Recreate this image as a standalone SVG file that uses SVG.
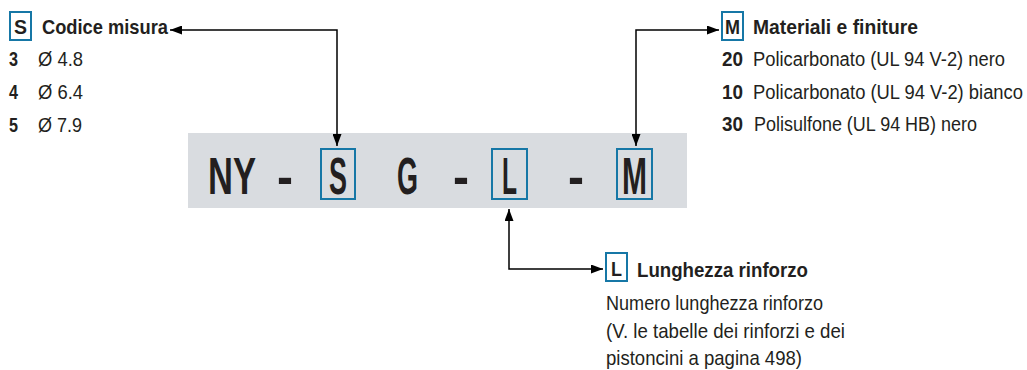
<svg xmlns="http://www.w3.org/2000/svg" width="1027" height="370" viewBox="0 0 1027 370">
<style>
.t{font-family:"Liberation Sans",Arial,sans-serif;fill:#231f20;font-size:21px}
.r{font-size:18.5px}
.b{font-weight:bold}
.big{font-family:"Liberation Sans",Arial,sans-serif;fill:#231f20;font-size:52px;font-weight:bold}
.box{fill:none;stroke:#1677a6;stroke-width:2}
.sbox{fill:#fff;stroke:#1677a6;stroke-width:2}
.con{fill:none;stroke:#000;stroke-width:1.5}
</style>
<defs>
<marker id="ah" viewBox="0 0 12 9" refX="12" refY="4.5" markerWidth="12" markerHeight="9" markerUnits="userSpaceOnUse" orient="auto-start-reverse">
<path d="M0,0 L12,4.5 L0,9 z" fill="#000"/>
</marker>
</defs>
<g id="code">
<rect x="188" y="133" width="499" height="75" fill="#d9dce0"/>
<text class="big" style="font-size:49px" x="208" y="194" transform="matrix(1 0 0 1.0612 0 -11.88)" textLength="48" lengthAdjust="spacingAndGlyphs">NY</text>
<text class="big" x="277" y="194" textLength="16" lengthAdjust="spacingAndGlyphs">-</text>
<rect class="box" x="321" y="149" width="34" height="50"/>
<text class="big" x="329" y="194" textLength="18" lengthAdjust="spacingAndGlyphs">S</text>
<text class="big" x="397" y="194" textLength="21" lengthAdjust="spacingAndGlyphs">G</text>
<text class="big" x="453" y="194" textLength="16" lengthAdjust="spacingAndGlyphs">-</text>
<rect class="box" x="492" y="149" width="35" height="50"/>
<text class="big" x="502" y="194" textLength="15" lengthAdjust="spacingAndGlyphs">L</text>
<text class="big" x="568" y="194" textLength="16" lengthAdjust="spacingAndGlyphs">-</text>
<rect class="box" x="617" y="149" width="35" height="50"/>
<text class="big" x="622" y="194" textLength="25" lengthAdjust="spacingAndGlyphs">M</text>
</g>
<g id="size">
<rect class="sbox" x="10" y="12" width="21" height="28"/>
<text class="t b" x="14" y="34" textLength="13" lengthAdjust="spacingAndGlyphs">S</text>
<text class="t b" x="42" y="34" textLength="126" lengthAdjust="spacingAndGlyphs">Codice misura</text>
<text class="t b" x="9" y="66" textLength="9" lengthAdjust="spacingAndGlyphs">3</text>
<text class="t" x="38" y="66" textLength="45" lengthAdjust="spacingAndGlyphs">Ø 4.8</text>
<text class="t b" x="9" y="99" textLength="9" lengthAdjust="spacingAndGlyphs">4</text>
<text class="t" x="38" y="99" textLength="45" lengthAdjust="spacingAndGlyphs">Ø 6.4</text>
<text class="t b" x="9" y="132" textLength="9" lengthAdjust="spacingAndGlyphs">5</text>
<text class="t" x="38" y="132" textLength="44" lengthAdjust="spacingAndGlyphs">Ø 7.9</text>
</g>
<g id="material">
<rect class="sbox" x="722" y="12" width="21" height="28"/>
<text class="t b" x="725" y="34" textLength="15" lengthAdjust="spacingAndGlyphs">M</text>
<text class="t b" x="753" y="34" textLength="165" lengthAdjust="spacingAndGlyphs">Materiali e finiture</text>
<text class="t b" x="722" y="66" textLength="21" lengthAdjust="spacingAndGlyphs">20</text>
<text class="t r" x="753" y="66" transform="matrix(1 0 0 1.135 0 -8.91)" textLength="252" lengthAdjust="spacingAndGlyphs">Policarbonato (UL 94 V-2) nero</text>
<text class="t b" x="722" y="99" textLength="21" lengthAdjust="spacingAndGlyphs">10</text>
<text class="t r" x="753" y="99" transform="matrix(1 0 0 1.135 0 -13.37)" textLength="270" lengthAdjust="spacingAndGlyphs">Policarbonato (UL 94 V-2) bianco</text>
<text class="t b" x="722" y="131" textLength="21" lengthAdjust="spacingAndGlyphs">30</text>
<text class="t r" x="754" y="131" transform="matrix(1 0 0 1.135 0 -17.69)" textLength="223" lengthAdjust="spacingAndGlyphs">Polisulfone (UL 94 HB) nero</text>
</g>
<g id="length">
<rect class="sbox" x="606" y="253" width="21" height="28"/>
<text class="t b" x="611" y="276" textLength="11" lengthAdjust="spacingAndGlyphs">L</text>
<text class="t b" x="637" y="277" textLength="171" lengthAdjust="spacingAndGlyphs">Lunghezza rinforzo</text>
<text class="t" x="606" y="310" textLength="217" lengthAdjust="spacingAndGlyphs">Numero lunghezza rinforzo</text>
<text class="t" x="606" y="338" textLength="239" lengthAdjust="spacingAndGlyphs">(V. le tabelle dei rinforzi e dei</text>
<text class="t" x="606" y="365" textLength="196" lengthAdjust="spacingAndGlyphs">pistoncini a pagina 498)</text>
</g>
<g id="connectors">
<path class="con" d="M170,30 H337 V146" marker-start="url(#ah)" marker-end="url(#ah)"/>
<path class="con" d="M636,146 V30 H719" marker-start="url(#ah)" marker-end="url(#ah)"/>
<path class="con" d="M509,209 V269 H603" marker-start="url(#ah)" marker-end="url(#ah)"/>
</g>
</svg>
